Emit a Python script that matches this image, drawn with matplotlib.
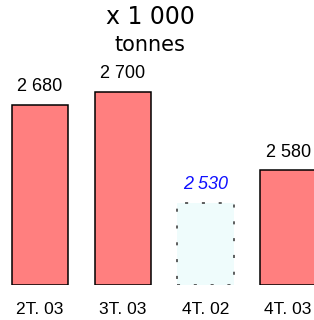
import matplotlib
matplotlib.use("Agg")
import matplotlib.pyplot as plt

categories = ["2T. 03", "3T. 03", "4T. 02", "4T. 03"]
values = [2680, 2700, 2530, 2580]
value_labels = ["2 680", "2 700", "2 530", "2 580"]
is_reference = [False, False, True, False]

plt.rcParams['hatch.color'] = "#d8f0f0"
base = 2405
scale = 0.655  # px per unit

fig = plt.figure(figsize=(3.14, 3.2), dpi=100)
ax = fig.add_axes([0, 35/320, 1, 285/320])
ax.set_xlim(-0.484, 3.313)
ax.set_ylim(base, base + 285/scale)
ax.axis("off")

font = "Liberation Sans"
for i, (v, lab, ref) in enumerate(zip(values, value_labels, is_reference)):
    if ref:
        ax.bar(i, v - base, bottom=base, width=0.68, color="#effcfc",
               edgecolor="none", hatch="////", linewidth=0)
        ax.bar(i, v - base, bottom=base, width=0.68, fill=False,
               edgecolor="#333333", linewidth=1.1, linestyle=(0, (2, 9)))
        ax.text(i, v + 19/scale, lab, ha="center", va="center", family=font,
                fontsize=13, color="#1010ff", style="italic")
    else:
        ax.bar(i, v - base, bottom=base, width=0.68, color="#ff7f7f",
               edgecolor="black", linewidth=1.1)
        ax.text(i, v + 18/scale, lab, ha="center", va="center", family=font,
                fontsize=13, color="black")
    ax.text(i, base - 24/scale, categories[i], ha="center", va="center",
            family=font, fontsize=12.5, color="black", clip_on=False)

fig.text(150/314, 1 - 17/320, "x 1 000", ha="center", va="center", fontsize=17)
fig.text(150/314, 1 - 45/320, "tonnes", ha="center", va="center", fontsize=15)

fig.savefig("out.png", dpi=100)
